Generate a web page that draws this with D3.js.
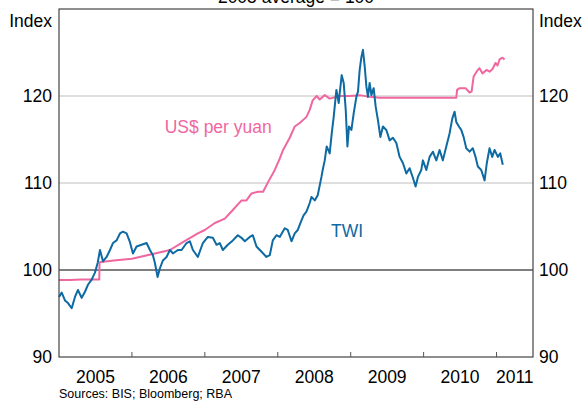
<!DOCTYPE html>
<html>
<head>
<meta charset="utf-8">
<script src="https://cdn.jsdelivr.net/npm/d3@7/dist/d3.min.js"></script>
<style>
  body { margin: 0; background: #fff; }
  svg text { font-family: "Liberation Sans", Arial, sans-serif; }
</style>
</head>
<body>
<svg></svg>
<script>
let width = 583;
let height = 401;

// decimal years (years since start of 2005) and index values
let twiYears = [0.000, 0.037, 0.082, 0.123, 0.174, 0.219, 0.260, 0.311, 0.356, 0.397,
    0.448, 0.493, 0.530, 0.562, 0.603, 0.653, 0.699, 0.740, 0.790, 0.836,
    0.877, 0.927, 0.973, 1.014, 1.064, 1.133, 1.201, 1.247, 1.288, 1.315,
    1.352, 1.384, 1.425, 1.475, 1.521, 1.562, 1.630, 1.681, 1.749, 1.795,
    1.836, 1.904, 1.973, 2.041, 2.110, 2.160, 2.205, 2.247, 2.315, 2.384,
    2.452, 2.503, 2.548, 2.616, 2.658, 2.708, 2.777, 2.845, 2.890, 2.932,
    2.982, 3.027, 3.096, 3.137, 3.188, 3.233, 3.274, 3.325, 3.356, 3.393,
    3.438, 3.462, 3.507, 3.548, 3.599, 3.616, 3.644, 3.671, 3.712, 3.740,
    3.767, 3.804, 3.836, 3.849, 3.877, 3.904, 3.932, 3.955, 3.977, 4.010,
    4.041, 4.078, 4.100, 4.123, 4.147, 4.168, 4.192, 4.215, 4.237, 4.260,
    4.284, 4.315, 4.342, 4.374, 4.407, 4.442, 4.489, 4.534, 4.579, 4.626,
    4.671, 4.716, 4.763, 4.808, 4.853, 4.890, 4.922, 4.968, 4.990, 5.037,
    5.082, 5.127, 5.174, 5.219, 5.264, 5.311, 5.356, 5.393, 5.425, 5.448,
    5.484, 5.516, 5.548, 5.585, 5.630, 5.675, 5.712, 5.744, 5.790, 5.836,
    5.867, 5.904, 5.941, 5.973, 6.018, 6.051, 6.086];
let twiValues = [96.9, 97.4, 96.5, 96.2, 95.6, 96.9, 97.7, 96.8, 97.5, 98.3,
    98.9, 99.7, 100.8, 102.3, 101.0, 101.5, 102.3, 103.1, 103.4, 104.2,
    104.4, 104.2, 103.2, 101.9, 102.7, 102.9, 103.1, 102.3, 101.7, 100.8,
    99.2, 100.2, 101.1, 101.5, 102.3, 101.9, 102.3, 102.3, 103.1, 103.3,
    102.3, 101.5, 103.1, 103.8, 103.7, 102.9, 103.1, 102.3, 102.9, 103.4,
    104.0, 103.7, 103.3, 103.8, 104.0, 102.7, 102.1, 101.5, 101.7, 103.4,
    104.0, 103.8, 104.8, 104.6, 103.3, 104.2, 104.6, 105.7, 106.3, 106.7,
    107.7, 108.4, 108.0, 108.6, 110.7, 111.5, 112.6, 114.2, 113.4, 115.7,
    117.6, 120.7, 119.2, 120.3, 122.4, 121.5, 118.4, 114.2, 116.5, 116.1,
    118.0, 119.9, 120.5, 123.0, 124.5, 125.3, 123.4, 121.1, 119.9, 121.5,
    120.1, 120.9, 118.8, 117.2, 115.3, 116.5, 116.1, 114.9, 115.2, 114.6,
    113.0, 112.3, 111.1, 111.7, 110.6, 109.6, 110.7, 111.5, 112.6, 111.5,
    113.0, 113.6, 112.6, 113.8, 112.6, 114.2, 115.7, 117.4, 118.2, 117.0,
    116.5, 116.1, 115.3, 114.0, 113.6, 114.0, 113.0, 111.9, 111.5, 110.3,
    112.3, 114.0, 113.0, 113.8, 113.0, 113.4, 112.1];

let usdYears = [0.000, 0.150, 0.300, 0.450, 0.552, 0.556, 0.750, 1.000, 1.315, 1.521,
    1.700, 1.904, 2.000, 2.137, 2.274, 2.384, 2.503, 2.571, 2.640, 2.730,
    2.799, 2.867, 2.959, 3.027, 3.073, 3.164, 3.233, 3.301, 3.342, 3.393,
    3.438, 3.479, 3.534, 3.575, 3.644, 3.712, 3.849, 3.986, 4.123, 4.260,
    4.397, 4.671, 4.945, 5.219, 5.448, 5.459, 5.493, 5.575, 5.630, 5.658,
    5.685, 5.726, 5.767, 5.808, 5.863, 5.904, 5.945, 5.986, 6.014, 6.041,
    6.082, 6.110];
let usdValues = [98.85, 98.85, 98.9, 98.9, 98.9, 100.9, 101.1, 101.3, 101.9, 102.3,
    103.2, 104.2, 104.6, 105.4, 105.9, 106.9, 108.0, 108.0, 108.8, 109.0,
    109.0, 110.1, 111.5, 112.8, 113.8, 115.2, 116.5, 116.9, 117.2, 117.6,
    118.4, 119.5, 120.0, 119.6, 120.1, 119.7, 120.0, 120.0, 120.1, 119.9,
    119.8, 119.8, 119.8, 119.8, 119.8, 120.7, 120.9, 120.9, 120.4, 120.5,
    122.2, 122.8, 123.2, 122.6, 123.0, 122.8, 123.1, 123.8, 123.5, 124.2,
    124.4, 124.2];

let yearTicks = [2006, 2007, 2008, 2009, 2010, 2011];
let yearLabels = [2005, 2006, 2007, 2008, 2009, 2010, 2011];
let valueTicks = [90, 100, 110, 120];
let gridValues = [110, 120];

let margin = { left: 59, right: 50, top: 9, bottom: 44 };
let fontSize = 17.5;

let svg = d3.select('svg')
    .attr('width', width)
    .attr('height', height);

let x = d3.scaleLinear()
    .domain([2005, 2011.5])
    .range([margin.left, width - margin.right]);

let y = d3.scaleLinear()
    .domain([90, 130])
    .range([height - margin.bottom, margin.top]);

let blue = '#0d6aa2';
let pink = '#f0679f';

// grid lines
svg.selectAll('line.grid')
    .data(gridValues)
    .enter()
    .append('line')
    .classed('grid', true)
    .attr('x1', x.range()[0])
    .attr('x2', x.range()[1])
    .attr('y1', d => y(d))
    .attr('y2', d => y(d))
    .style('stroke', '#d4d4d4')
    .style('stroke-width', 1.5);

// 100 baseline
svg.append('line')
    .attr('x1', x.range()[0])
    .attr('x2', x.range()[1])
    .attr('y1', y(100))
    .attr('y2', y(100))
    .style('stroke', '#000')
    .style('stroke-width', 1);

let line = d3.line()
    .x(d => x(2005 + d[0]))
    .y(d => y(d[1]));

svg.append('path')
    .datum(usdYears.map((t, i) => [t, usdValues[i]]))
    .attr('d', line)
    .style('fill', 'none')
    .style('stroke', pink)
    .style('stroke-width', 2)
    .style('stroke-linejoin', 'round');

svg.append('path')
    .datum(twiYears.map((t, i) => [t, twiValues[i]]))
    .attr('d', line)
    .style('fill', 'none')
    .style('stroke', blue)
    .style('stroke-width', 2)
    .style('stroke-linejoin', 'round');

// frame
svg.append('rect')
    .attr('x', x.range()[0])
    .attr('y', y.range()[1])
    .attr('width', x.range()[1] - x.range()[0])
    .attr('height', y.range()[0] - y.range()[1])
    .style('fill', 'none')
    .style('stroke', '#444')
    .style('stroke-width', 1.2);

// year ticks on the bottom axis
svg.selectAll('line.xtick')
    .data(yearTicks)
    .enter()
    .append('line')
    .classed('xtick', true)
    .attr('x1', d => x(d))
    .attr('x2', d => x(d))
    .attr('y1', y(90))
    .attr('y2', y(90) - 5)
    .style('stroke', '#555');

svg.selectAll('text.xlabel')
    .data(yearLabels)
    .enter()
    .append('text')
    .classed('xlabel', true)
    .attr('x', d => x(Math.min(d + 0.5, 2011.25)))
    .attr('y', 383)
    .attr('text-anchor', 'middle')
    .style('font-size', fontSize + 'px')
    .text(d => d);

// y labels both sides
svg.selectAll('text.yleft')
    .data(valueTicks)
    .enter()
    .append('text')
    .classed('yleft', true)
    .attr('x', x.range()[0] - 7)
    .attr('y', d => y(d) + 6)
    .attr('text-anchor', 'end')
    .style('font-size', fontSize + 'px')
    .text(d => d);

svg.selectAll('text.yright')
    .data(valueTicks)
    .enter()
    .append('text')
    .classed('yright', true)
    .attr('x', x.range()[1] + 6)
    .attr('y', d => y(d) + 6)
    .attr('text-anchor', 'start')
    .style('font-size', fontSize + 'px')
    .text(d => d);

svg.append('text')
    .attr('x', x.range()[0] - 7)
    .attr('y', 27)
    .attr('text-anchor', 'end')
    .style('font-size', fontSize + 'px')
    .text('Index');

svg.append('text')
    .attr('x', x.range()[1] + 6)
    .attr('y', 27)
    .style('font-size', fontSize + 'px')
    .text('Index');

svg.append('text')
    .attr('x', (x.range()[0] + x.range()[1]) / 2)
    .attr('y', 3)
    .attr('text-anchor', 'middle')
    .style('font-size', fontSize + 'px')
    .text('2005 average = 100');

// series labels
svg.append('text')
    .attr('x', x(2006.45))
    .attr('y', y(115.75))
    .style('font-size', fontSize + 'px')
    .style('fill', pink)
    .text('US$ per yuan');

svg.append('text')
    .attr('x', x(2008.73))
    .attr('y', y(103.8))
    .style('font-size', fontSize + 'px')
    .style('fill', blue)
    .text('TWI');

svg.append('text')
    .attr('x', 59)
    .attr('y', 398)
    .style('font-size', '12.5px')
    .text('Sources: BIS; Bloomberg;  RBA');
</script>
</body>
</html>
